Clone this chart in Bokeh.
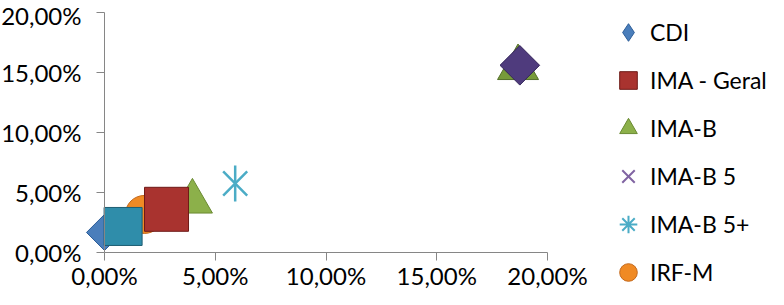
import math
from bokeh.plotting import figure
from bokeh.models import Range1d, FixedTicker, Legend, LegendItem, LinearAxis
from bokeh.embed import file_html
from bokeh.resources import INLINE

# ---- data (percent units) ----
series_names = ["CDI", "IMA - Geral", "IMA-B", "IMA-B 5", "IMA-B 5+", "IRF-M"]
risk_x = [0.0, 2.8, 3.97, 0.45, 5.9, 1.8]
return_y = [1.67, 3.6, 4.25, 3.15, 5.75, 3.17]

# series drawn in the plot but not shown in the (cut-off) legend
extra_x = [0.84, 18.67, 18.75]
extra_y = [2.17, 15.4, 15.6]

tick_vals = [0, 5, 10, 15, 20]
tick_labels = ["0,00%", "5,00%", "10,00%", "15,00%", "20,00%"]

FONT = "Lato"

# layout: frame covers the whole canvas; 0..20% of x spans px 104..547, y 252..12
W, H = 768, 289
X0PX, X20PX = 104, 547
Y0PX, Y20PX = 252, 12
xs = (X20PX - X0PX) / 20.0
ys = (Y0PX - Y20PX) / 20.0
x_range = Range1d(-X0PX / xs, (W - X0PX) / xs)
y_range = Range1d(-(H - Y0PX) / ys, 20 + Y20PX / ys)

p = figure(width=W, height=H, x_range=x_range, y_range=y_range,
           output_backend="svg", toolbar_location=None,
           x_axis_location=None, y_axis_location=None, min_border=0)
p.outline_line_color = None
p.xgrid.visible = False
p.ygrid.visible = False
p.background_fill_color = "white"
p.border_fill_color = "white"

xaxis = LinearAxis(fixed_location=0, bounds=(0, 20))
yaxis = LinearAxis(fixed_location=0, bounds=(0, 20))
for ax in (xaxis, yaxis):
    ax.ticker = FixedTicker(ticks=tick_vals)
    ax.major_label_overrides = {v: l for v, l in zip(tick_vals, tick_labels)}
    ax.minor_tick_line_color = None
    ax.axis_line_color = "#868686"
    ax.major_tick_line_color = "#868686"
    ax.major_tick_in = 0
    ax.major_tick_out = 8
    ax.major_label_text_font = FONT
    ax.major_label_text_font_size = "24px"
    ax.major_label_text_color = "#000000"
yaxis.major_label_standoff = 15
xaxis.major_label_standoff = 0
p.add_layout(xaxis, "below")
p.add_layout(yaxis, "left")

def pt(i):
    return dict(x=[risk_x[i]], y=[return_y[i]])

C_CDI = ("#4A7EBB", "#2C5D98")
C_AST = "#4BACC6"

r_cdi = p.scatter(**pt(0), marker="square", angle=math.pi / 4, size=25.5,
                  fill_color=C_CDI[0], line_color=C_CDI[1], line_width=1)
r_b5 = p.scatter(**pt(3), marker="x", size=20, line_color="#8064A2", line_width=2)
r_irfm = p.scatter(**pt(5), marker="circle", size=38,
                   fill_color="#F08A24", line_color="#C4681A", line_width=1)
r_imab = p.scatter(**pt(2), marker="triangle", size=40,
                   fill_color="#8CB04A", line_color="#6A8A32", line_width=1)
r_geral = p.scatter(**pt(1), marker="square", size=44,
                    fill_color="#A9332F", line_color="#6E1A17", line_width=1)
# extra teal square
p.scatter(x=[extra_x[0]], y=[extra_y[0]], marker="square", size=38,
          fill_color="#2F8DAA", line_color="#1D5D72", line_width=1)
p.scatter(**pt(4), marker="x", size=34, line_color=C_AST, line_width=2.5)
p.scatter(**pt(4), marker="dash", angle=math.pi / 2, size=36,
          line_color=C_AST, line_width=2.5)
# top-right extra series
p.scatter(x=[extra_x[1]], y=[extra_y[1]], marker="triangle", size=41,
          fill_color="#779A3A", line_color="#55702A", line_width=1)
p.scatter(x=[extra_x[2]], y=[extra_y[2]], marker="square", angle=math.pi / 4, size=28,
          fill_color="#4F3B7D", line_color="#33245A", line_width=1)

# legend proxies (zero size in the plot; legend draws them at its own size)
r_cdi_proxy = p.scatter(**pt(0), marker="diamond", size=0,
                        fill_color=C_CDI[0], line_color=C_CDI[1], line_width=1)
r_ast_proxy = p.scatter(**pt(4), marker="asterisk", size=0, line_color=C_AST, line_width=2)

legend = Legend(items=[
    LegendItem(label=series_names[0], renderers=[r_cdi_proxy]),
    LegendItem(label=series_names[1], renderers=[r_geral]),
    LegendItem(label=series_names[2], renderers=[r_imab]),
    LegendItem(label=series_names[3], renderers=[r_b5]),
    LegendItem(label=series_names[4], renderers=[r_ast_proxy]),
    LegendItem(label=series_names[5], renderers=[r_irfm]),
], location=(606, -7), glyph_width=44, glyph_height=48, spacing=0, padding=0, margin=0,
    label_standoff=0, border_line_alpha=0, background_fill_alpha=0,
    label_text_font=FONT, label_text_font_size="23px", label_text_color="#000000",
    label_height=48)
p.add_layout(legend, "center")

open("out.html", "w").write(file_html(p, INLINE))
